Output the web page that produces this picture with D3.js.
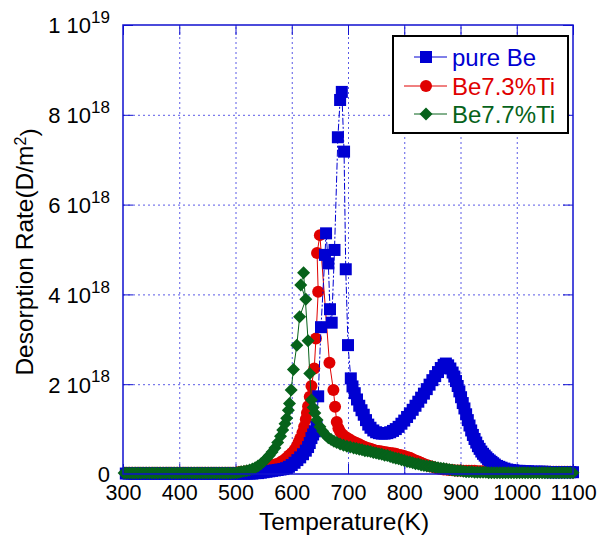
<!DOCTYPE html>
<html><head><meta charset="utf-8">
<script src="https://cdn.jsdelivr.net/npm/d3@7"></script>
<style>body{margin:0;background:#fff}svg{display:block}text{font-family:"Liberation Sans",Arial,sans-serif}</style>
</head><body>
<script>
// values in units of 1e18 D/m^2
const seriesNames = ["pure Be", "Be7.3%Ti", "Be7.7%Ti"];
const xTicks = [300,400,500,600,700,800,900,1000,1100];
const yTicks = [0,2,4,6,8,10];
const yTickMant = ["0","2 10","4 10","6 10","8 10","1 10"];
const yTickExp = ["","18","18","18","18","19"];

const pureBe = [
[305,.01],[310,.01],[315,.01],[320,.01],[325,.01],[330,.01],[335,.01],[340,.01],[345,.01],[350,.01],[355,.01],[360,.01],[365,.01],[370,.01],[375,.01],[380,.01],[385,.01],[390,.01],[395,.01],[400,.01],[405,.01],[410,.01],[415,.01],[420,.01],[425,.01],[430,.01],[435,.01],[440,.01],[445,.01],[450,.01],[455,.01],[460,.01],[465,.01],[470,.01],[475,.01],[480,.01],[485,.01],[490,.01],[495,.01],[500,.01],[505,.01],[510,.01],[515,.01],[520,.01],[525,.01],[530,.01],[535,.02],[540,.02],
[545,.03],[550,.04],[555,.05],[560,.06],[565,.07],[570,.08],[575,.09],[580,.1],[585,.11],[590,.13],[595,.16],[600,.2],[605,.25],[610,.31],[615,.37],[620,.44],[625,.52],[629,.6],[632,.69],[635,.8],[638,.88],[641,.95],[644,1.05],
[647,1.73],[652,3.27],[659,4.88],[661,5.36],[665,4.69],[668,3.67],[671,3.37],[676,4.99],[682,7.5],[686,8.33],[689,8.51],[693,7.18],[696,4.56],[700,2.87],[705,2.13],
[708,1.95],[712,1.8],[716,1.66],[720,1.52],[724,1.42],[728,1.32],[732,1.2],[736,1.1],[740,1.03],[745,.97],[750,.93],[755,.91],[760,.9],[765,.9],[770,.91],[775,.93],[780,.96],[785,1.0],[790,1.05],[795,1.12],[800,1.19],[805,1.27],[810,1.35],[815,1.43],[820,1.52],[825,1.61],[830,1.7],[835,1.79],[840,1.89],[845,1.99],[850,2.09],[855,2.18],[860,2.27],[865,2.36],[870,2.43],[874,2.46],[878,2.42],[882,2.35],[886,2.26],[889,2.17],[892,2.07],[895,1.96],[898,1.84],[901,1.71],[904,1.58],[907,1.46],[910,1.33],[913,1.2],[916,1.08],[919,.97],[922,.87],[925,.78],[928,.7],[931,.62],[934,.56],[937,.5],[940,.45],[943,.41],[946,.37],[949,.33],[952,.3],[955,.27],[958,.24],[961,.21],[965,.18],[969,.16],[973,.14],[978,.12],[983,.1],[988,.09],[994,.08],[1000,.07],[1005,.07],[1010,.06],[1015,.06],[1020,.06],[1025,.05],[1030,.05],[1035,.05],[1040,.05],[1045,.05],[1050,.05],[1055,.04],[1060,.04],[1065,.04],[1070,.04],[1075,.04],[1080,.04],[1085,.04],[1090,.04],[1095,.04],[1100,.04]
];

const be73 = [
[305,.03],[310,.03],[315,.03],[320,.03],[325,.03],[330,.03],[335,.03],[340,.03],[345,.03],[350,.03],[355,.03],[360,.03],[365,.03],[370,.03],[375,.03],[380,.03],[385,.03],[390,.03],[395,.03],[400,.03],[405,.03],[410,.03],[415,.03],[420,.03],[425,.03],[430,.03],[435,.03],[440,.03],[445,.03],[450,.03],[455,.03],[460,.03],[465,.03],[470,.03],[475,.03],[480,.03],[485,.03],[490,.03],[495,.03],[500,.03],
[505,.04],[510,.05],[515,.05],[520,.06],[525,.07],[530,.08],[535,.09],[540,.1],[545,.11],[550,.13],[555,.15],[560,.17],[565,.19],[570,.21],[575,.23],[580,.26],[585,.3],[590,.35],[595,.41],[600,.47],[605,.54],[609,.62],[612,.7],[615,.79],[619,.92],[622,1.05],[625,1.22],[627,1.36],[629,1.51],[632,1.72],[635,1.96],[640,2.35],[643,3.02],[647,4.06],[645,4.92],[650,5.32],
[667,2.48],[674,1.87],[677,1.5],[680,1.16],[683,1.02],[686,.94],[690,.88],[695,.83],[700,.79],[705,.75],[710,.72],[715,.69],[720,.66],[725,.63],[730,.6],[735,.58],[740,.56],[745,.54],[750,.52],[755,.51],[760,.5],[765,.49],[770,.48],[775,.47],[780,.46],[785,.45],[790,.43],[795,.42],[800,.4],[805,.38],[810,.36],[815,.33],[820,.3],[825,.28],[830,.25],[835,.22],[840,.2],[845,.18],[850,.16],[855,.14],[860,.12],[865,.11],[870,.1],[875,.1],[880,.09],[885,.09],[890,.08],[895,.08],[900,.08],[905,.07],[910,.07],[915,.07],[920,.07],[925,.07],[930,.06],[935,.06],[940,.06],[945,.06],[950,.05],[955,.05],[960,.05],[965,.05],[970,.05],[975,.05],[980,.05],[985,.05],[990,.05],[995,.05],[1000,.05],[1005,.05],[1010,.05],[1015,.05],[1020,.05],[1025,.05],[1030,.05],[1035,.05],[1040,.05],[1045,.05],[1050,.05],[1055,.05],[1060,.05],[1065,.05],[1070,.05],[1075,.05],[1080,.05],[1085,.05],[1090,.05],[1095,.05],[1100,.05]
];

const be77 = [
[302,.02],[307,.02],[312,.02],[317,.02],[322,.02],[327,.02],[332,.02],[337,.02],[342,.02],[347,.02],[352,.02],[357,.02],[362,.02],[367,.02],[372,.02],[377,.02],[382,.02],[387,.02],[392,.02],[397,.02],[402,.02],[407,.02],[412,.02],[417,.02],[422,.02],[427,.02],[432,.02],[437,.02],[442,.02],[447,.02],[452,.02],[457,.02],[462,.02],[467,.02],[472,.02],[477,.02],[482,.02],[487,.02],[492,.02],[497,.02],[502,.03],
[506,.04],[510,.05],[515,.06],[520,.07],[525,.09],[530,.11],[535,.14],[540,.18],[545,.22],[550,.28],[555,.34],[560,.41],[565,.49],[570,.58],[575,.7],[580,.84],[584,.98],[588,1.12],[591,1.24],[594,1.42],[596,1.57],[599,1.87],[603,2.33],[609,2.87],[614,3.5],[625,3.89],[616,4.21],[621,4.48],
[629,2.97],[632,2.24],[635,1.65],[638,1.48],[641,1.36],[645,1.2],[650,1.05],[655,.95],[660,.87],[665,.81],[670,.77],[675,.73],[680,.7],[686,.67],[692,.64],[698,.62],[704,.6],[710,.58],[715,.57],[720,.55],[725,.54],[730,.52],[735,.51],[740,.5],[745,.48],[750,.47],[755,.45],[760,.44],[765,.42],[770,.41],[775,.39],[780,.37],[785,.35],[790,.34],[795,.32],[800,.3],[805,.28],[810,.27],[815,.25],[820,.23],[825,.22],[830,.2],[835,.19],[840,.18],[845,.17],[850,.16],[855,.15],[860,.14],[865,.13],[870,.12],[875,.11],[880,.1],[885,.09],[890,.08],[895,.07],[900,.07],[905,.06],[910,.05],[915,.05],[920,.05],[925,.04],[930,.04],[935,.04],[940,.04],[945,.04],[950,.03],[955,.03],[960,.03],[965,.03],[970,.03],[975,.03],[980,.03],[985,.03],[990,.03],[995,.03],[1000,.03],[1005,.03],[1010,.03],[1015,.03],[1020,.03],[1025,.03],[1030,.03],[1035,.03],[1040,.03],[1045,.03],[1050,.03],[1055,.03],[1060,.03],[1065,.03],[1070,.03],[1075,.03],[1080,.03],[1085,.03],[1090,.03],[1095,.03],[1100,.03]
];

const colors = {blue:"#0000d2", red:"#e00000", green:"#06621a"};
const W = 598, H = 537;
const L = 123, R = 573, T = 25, B = 474;

const svg = d3.select("body").append("svg").attr("width", W).attr("height", H);
svg.append("rect").attr("width", W).attr("height", H).attr("fill", "#fff");

const x = d3.scaleLinear().domain([300,1100]).range([L,R]);
const y = d3.scaleLinear().domain([0,10]).range([B,T]);

// grid
const grid = svg.append("g");
grid.append("g").attr("transform", `translate(0,${B})`)
  .call(d3.axisBottom(x).tickValues(xTicks.slice(1,-1)).tickSize(-(B-T)).tickFormat(""))
  .call(g => g.select(".domain").remove())
  .call(g => g.selectAll("line").attr("stroke","#5a5ae6").attr("stroke-dasharray","2,3"));
grid.append("g").attr("transform", `translate(${L},0)`)
  .call(d3.axisLeft(y).tickValues(yTicks.slice(1,-1)).tickSize(-(R-L)).tickFormat(""))
  .call(g => g.select(".domain").remove())
  .call(g => g.selectAll("line").attr("stroke","#5a5ae6").attr("stroke-dasharray","2,3"));

// inner ticks on all 4 sides
const tk = 10, frameCol = "#1010d0";
const tickG = svg.append("g").attr("stroke", frameCol).attr("stroke-width", 1);
[[d3.axisBottom(x), B],[d3.axisTop(x), T]].forEach(([ax, pos]) => {
  tickG.append("g").attr("transform", `translate(0,${pos})`)
    .call(ax.tickValues(xTicks).tickSize(-tk).tickFormat(""))
    .call(g => g.select(".domain").remove())
    .call(g => g.selectAll("line").attr("stroke", frameCol));
});
[[d3.axisLeft(y), L],[d3.axisRight(y), R]].forEach(([ax, pos]) => {
  tickG.append("g").attr("transform", `translate(${pos},0)`)
    .call(ax.tickValues(yTicks).tickSize(-tk).tickFormat(""))
    .call(g => g.select(".domain").remove())
    .call(g => g.selectAll("line").attr("stroke", frameCol));
});

// series
const line = d3.line().x(d => x(d[0])).y(d => y(d[1]));
const sq = 12, cr = 6, dm = 6.5;
const diamond = `M0,${-dm}L${dm},0L0,${dm}L${-dm},0Z`;

function drawLine(data, col, dash){
  svg.append("path").datum(data).attr("d", line).attr("fill","none")
    .attr("stroke", col).attr("stroke-width", 1).attr("stroke-dasharray", dash || null);
}
// red
drawLine(be73, colors.red);
svg.append("g").selectAll("circle").data(be73).join("circle")
  .attr("cx", d => x(d[0])).attr("cy", d => y(d[1])).attr("r", cr).attr("fill", colors.red);
// blue
drawLine(pureBe, colors.blue, "7,2,2,2");
svg.append("g").selectAll("rect").data(pureBe).join("rect")
  .attr("x", d => x(d[0]) - sq/2).attr("y", d => y(d[1]) - sq/2)
  .attr("width", sq).attr("height", sq).attr("fill", colors.blue);
// green
drawLine(be77, colors.green);
svg.append("g").selectAll("path").data(be77).join("path")
  .attr("transform", d => `translate(${x(d[0])},${y(d[1])})`).attr("d", diamond).attr("fill", colors.green);

// frame
svg.append("rect").attr("x", L).attr("y", T).attr("width", R-L).attr("height", B-T)
  .attr("fill","none").attr("stroke", frameCol).attr("stroke-width", 1.5);

// x tick labels
svg.append("g").attr("transform", `translate(0,${B})`)
  .call(d3.axisBottom(x).tickValues(xTicks).tickSize(0).tickPadding(0).tickFormat(d3.format("d")))
  .call(g => g.select(".domain").remove())
  .call(g => g.selectAll("text").attr("y", 26).attr("dy", null).attr("fill","#000")
        .attr("font-size", 21.5).attr("font-family", "Liberation Sans, Arial, sans-serif"));

// y tick labels
const yl = svg.append("g").attr("transform", `translate(${L},0)`)
  .call(d3.axisLeft(y).tickValues(yTicks).tickSize(0).tickPadding(0).tickFormat(""))
  .call(g => g.select(".domain").remove());
yl.selectAll(".tick text").each(function(d, i){
  const t = d3.select(this).attr("x", -13).attr("dy", "0.36em").attr("fill","#000")
    .attr("font-size", 22).attr("text-anchor","end").attr("font-family", "Liberation Sans, Arial, sans-serif");
  t.text(null);
  t.append("tspan").text(yTickMant[i]);
  if (yTickExp[i]) t.append("tspan").attr("dy", "-0.6em").attr("font-size", 17).text(yTickExp[i]);
});

// axis titles
svg.append("text").attr("x", 344).attr("y", 530).attr("text-anchor","middle")
  .attr("font-size", 24.5).attr("fill","#000").text("Temperature(K)");
svg.append("text").attr("transform", "translate(33,252) rotate(-90)").attr("text-anchor","middle")
  .attr("font-size", 24.5).attr("fill","#000")
  .call(t => { t.append("tspan").text("Desorption Rate(D/m");
               t.append("tspan").attr("dy","-0.45em").attr("font-size",16).text("2");
               t.append("tspan").attr("dy","0.45em").text(")"); });

// legend
const lg = svg.append("g");
lg.append("rect").attr("x", 393).attr("y", 36).attr("width", 175).attr("height", 97)
  .attr("fill","#fff").attr("stroke","#000").attr("stroke-width", 2);
const legY = [57, 86, 114];
const legCols = [colors.blue, colors.red, colors.green];
seriesNames.forEach((name, i) => {
  const cy = legY[i], c = legCols[i];
  lg.append("line").attr("x1", i===1?404:414).attr("x2", 447).attr("y1", cy).attr("y2", cy)
    .attr("stroke", c).attr("stroke-width", 1);
  if (i === 0) lg.append("rect").attr("x", 426-sq/2).attr("y", cy-sq/2).attr("width", sq).attr("height", sq).attr("fill", c);
  if (i === 1) lg.append("circle").attr("cx", 426).attr("cy", cy).attr("r", cr).attr("fill", c);
  if (i === 2) lg.append("path").attr("transform", `translate(426,${cy})`).attr("d", diamond).attr("fill", c);
  lg.append("text").attr("x", 452).attr("y", cy).attr("dy", "0.36em").attr("font-size", 24)
    .attr("fill", c).text(name);
});
</script>
</body></html>
